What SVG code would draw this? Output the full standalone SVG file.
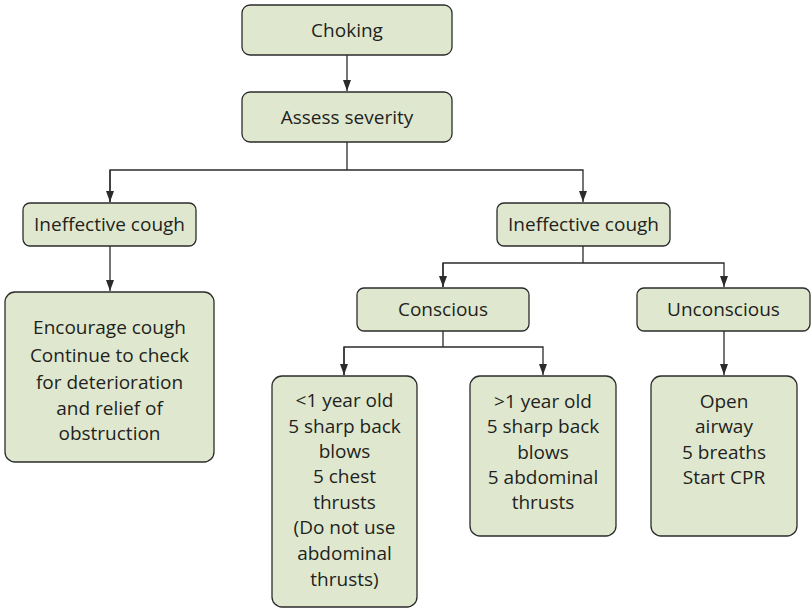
<svg xmlns="http://www.w3.org/2000/svg" width="812" height="616" viewBox="0 0 812 616">
<style>
.box{fill:#dfe8cf;stroke:#2b2b2b;stroke-width:1.3}
.t{font-family:"Open Sans","Noto Sans","Liberation Sans",sans-serif;font-size:19px;fill:#231f20;text-anchor:middle}
.c{fill:none;stroke:#2b2b2b;stroke-width:1.3}
</style>
<defs>
<marker id="ah" viewBox="0 0 11 8" refX="11" refY="4" markerWidth="11" markerHeight="8" markerUnits="userSpaceOnUse" orient="auto">
<path d="M0,0 L11,4 L0,8 z" fill="#2b2b2b"/>
</marker>
</defs>
<rect width="812" height="616" fill="#ffffff"/>
<g id="connectors">
<path class="c" d="M347,55 V91" marker-end="url(#ah)"/>
<path class="c" d="M347,142 V170"/>
<path class="c" d="M110,202 V170 H583 V202" marker-end="url(#ah)"/>
<path class="c" d="M110,170 V202" marker-end="url(#ah)"/>
<path class="c" d="M110,246 V291" marker-end="url(#ah)"/>
<path class="c" d="M583,246 V263"/>
<path class="c" d="M443,287 V263 H724 V287" marker-end="url(#ah)"/>
<path class="c" d="M443,263 V287" marker-end="url(#ah)"/>
<path class="c" d="M443,331 V347"/>
<path class="c" d="M344,375 V347 H543 V375" marker-end="url(#ah)"/>
<path class="c" d="M344,347 V375" marker-end="url(#ah)"/>
<path class="c" d="M724,331 V375" marker-end="url(#ah)"/>
</g>
<g id="choking">
<rect class="box" x="242" y="5" width="210" height="50" rx="8"/>
<text class="t" x="347" y="37">Choking</text>
</g>
<g id="assess">
<rect class="box" x="242" y="92" width="210" height="50" rx="8"/>
<text class="t" x="347" y="124">Assess severity</text>
</g>
<g id="ineffective-left">
<rect class="box" x="23" y="203" width="173" height="43" rx="7"/>
<text class="t" x="109.5" y="231">Ineffective cough</text>
</g>
<g id="ineffective-right">
<rect class="box" x="497" y="203" width="173" height="43" rx="7"/>
<text class="t" x="583.5" y="231">Ineffective cough</text>
</g>
<g id="encourage">
<rect class="box" x="5" y="292" width="209" height="170" rx="10"/>
<text class="t" x="109.5" y="334">Encourage cough</text>
<text class="t" x="109.5" y="362">Continue to check</text>
<text class="t" x="109.5" y="389">for deterioration</text>
<text class="t" x="109.5" y="415">and relief of</text>
<text class="t" x="109.5" y="440">obstruction</text>
</g>
<g id="conscious">
<rect class="box" x="357" y="288" width="172" height="43" rx="7"/>
<text class="t" x="443" y="316">Conscious</text>
</g>
<g id="unconscious">
<rect class="box" x="637" y="288" width="173" height="43" rx="7"/>
<text class="t" x="723.5" y="316">Unconscious</text>
</g>
<g id="under1">
<rect class="box" x="272" y="376" width="145" height="231" rx="10"/>
<text class="t" x="344.5" y="407">&lt;1 year old</text>
<text class="t" x="344.5" y="433">5 sharp back</text>
<text class="t" x="344.5" y="458">blows</text>
<text class="t" x="344.5" y="483">5 chest</text>
<text class="t" x="344.5" y="509">thrusts</text>
<text class="t" x="344.5" y="534">(Do not use</text>
<text class="t" x="344.5" y="560">abdominal</text>
<text class="t" x="344.5" y="586">thrusts)</text>
</g>
<g id="over1">
<rect class="box" x="470" y="376" width="146" height="160" rx="10"/>
<text class="t" x="543" y="408">&gt;1 year old</text>
<text class="t" x="543" y="433">5 sharp back</text>
<text class="t" x="543" y="459">blows</text>
<text class="t" x="543" y="484">5 abdominal</text>
<text class="t" x="543" y="509">thrusts</text>
</g>
<g id="open-airway">
<rect class="box" x="651" y="376" width="146" height="160" rx="10"/>
<text class="t" x="724" y="408">Open</text>
<text class="t" x="724" y="433">airway</text>
<text class="t" x="724" y="459">5 breaths</text>
<text class="t" x="724" y="484">Start CPR</text>
</g>
</svg>
